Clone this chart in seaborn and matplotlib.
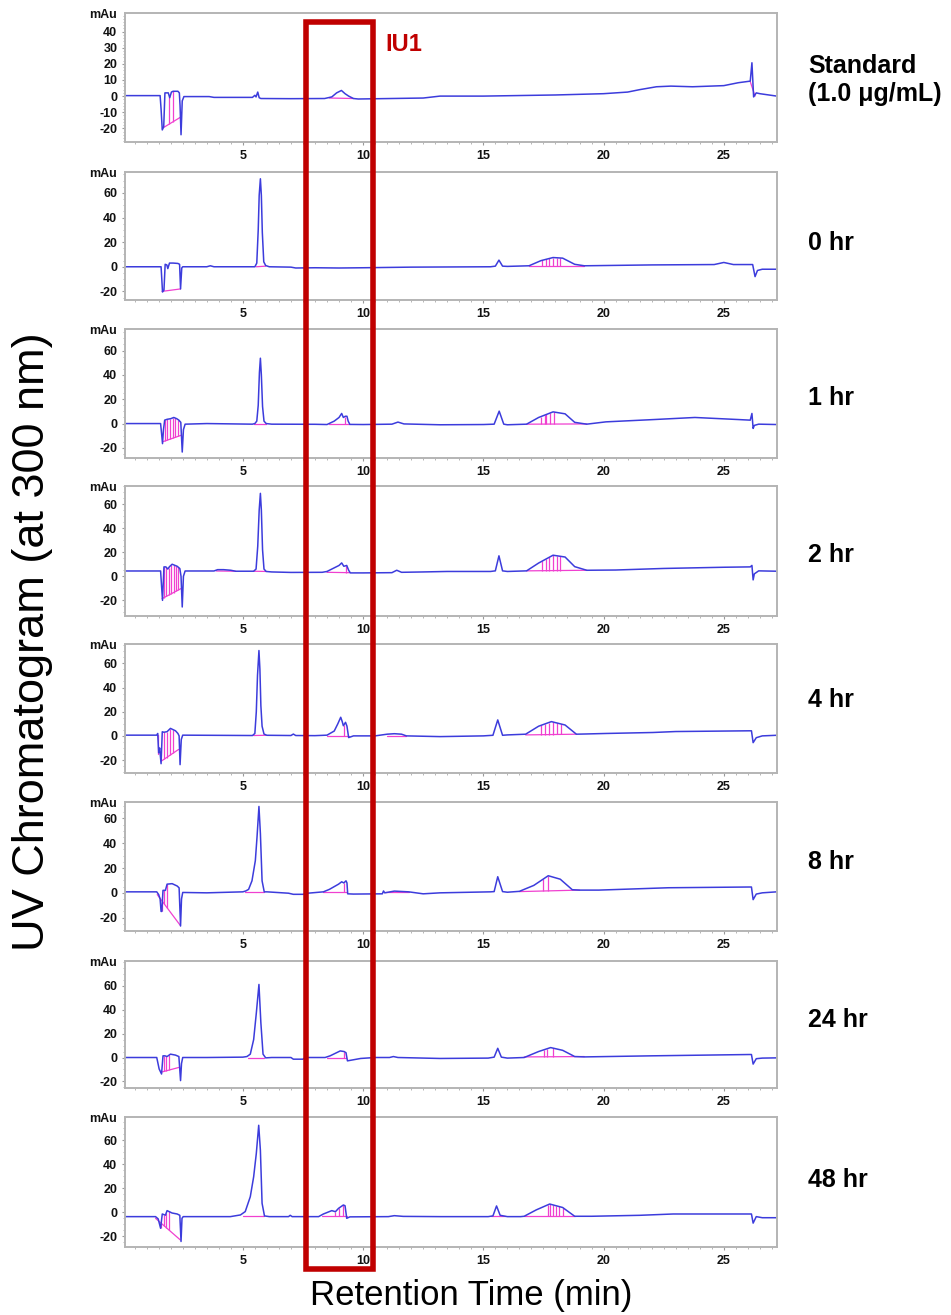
import numpy as np
import pandas as pd
import matplotlib
matplotlib.use("Agg")
import matplotlib.pyplot as plt
import seaborn as sns
from matplotlib.patches import Rectangle
from matplotlib.transforms import blended_transform_factory
from matplotlib.ticker import MultipleLocator, FixedLocator

sns.set_theme(style="white")
plt.rcParams['font.family'] = ['Liberation Sans', 'DejaVu Sans']
plt.rcParams['axes.unicode_minus'] = False

# ---------------- data (retention time [min], signal [mAu]) ----------------
sample_labels = ["Standard\n(1.0 \u03bcg/mL)", "0 hr", "1 hr", "2 hr", "4 hr", "8 hr", "24 hr", "48 hr"]

pts_std = [(0.1,0.3),(1.56,0.3),(1.60,-8),(1.65,-21),(1.71,-19),(1.76,2),(1.9,2),(1.96,-1),(2.03,2.5),(2.1,3),
           (2.3,3),(2.36,2),(2.39,-6),(2.43,-24),(2.48,-3),(2.55,-0.3),(3.6,-0.3),(3.8,-0.8),(5.4,-0.8),(5.5,0.5),
           (5.55,-0.5),(5.62,2.5),(5.68,-1),(5.75,-1.5),(7.0,-1.6),(8.4,-1.5),(8.7,-0.5),(8.9,2),(9.1,3.5),(9.25,1.5),
           (9.4,0),(9.6,-1.5),(9.8,-1.8),(12.5,-1.2),(13.2,0),(15.0,0),(18.0,0.7),(20.0,1.5),(21.0,2.5),(21.5,4),
           (22.2,5.8),(22.8,6.2),(23.7,5.8),(25.0,6.5),(25.6,8.3),(26.1,9.3),(26.17,20.7),(26.24,-0.5),(26.35,2),
           (26.5,1.5),(27.2,0)]
pts_0h = [(0.1,0),(1.6,0),(1.63,-10),(1.66,-20.5),(1.72,-19),(1.77,2),(1.84,1.5),(1.88,-1.5),(1.95,3),(2.1,3),
          (2.3,2.7),(2.37,2),(2.41,-18),(2.46,-1),(2.5,0),(3.5,0),(3.65,0.8),(3.8,0),(5.5,0),(5.58,3),(5.64,30),
          (5.68,58),(5.73,71.5),(5.77,58),(5.81,28),(5.87,4),(5.95,1),(6.1,0),(7.0,-0.3),(7.2,-1),(8.0,-0.8),
          (9.0,-1),(10.0,-0.8),(12.0,-0.3),(15.3,0),(15.5,0.5),(15.65,5.4),(15.8,0.5),(16.0,0.3),(16.9,0.8),
          (17.4,5),(17.9,7.5),(18.3,7),(18.8,2),(19.2,0.8),(20.0,1),(22.0,1.5),(24.6,1.8),(25.0,3.5),(25.4,1.8),
          (26.2,1.8),(26.3,-8),(26.4,-3),(26.6,-2),(27.2,-2)]
pts_1h = [(0.1,0),(1.58,0),(1.62,-8),(1.66,-16.5),(1.70,-5),(1.75,2.8),(1.85,3.5),(2.0,4),(2.13,5),(2.25,4),
          (2.34,2.8),(2.42,1),(2.48,-23.4),(2.53,-5),(2.6,-0.5),(3.5,0),(5.4,-0.5),(5.5,0),(5.58,2),(5.64,15),
          (5.69,42),(5.73,53.7),(5.77,40),(5.82,14),(5.88,2),(5.97,0),(6.2,-0.5),(8.0,-0.6),(8.5,-0.8),(8.8,2),
          (9.0,5),(9.11,8.3),(9.18,5),(9.26,6),(9.33,6),(9.38,2),(9.45,-0.7),(10.0,-0.8),(11.2,-0.5),(11.45,1.2),
          (11.7,-0.3),(13.2,-1),(15.0,-0.8),(15.45,-0.5),(15.66,10.2),(15.85,-0.5),(16.0,-1),(16.8,-0.5),(17.3,5),
          (17.9,9.6),(18.4,8),(18.8,1),(19.3,-0.5),(20.1,1.4),(22.1,3.3),(23.8,5),(25.6,3.3),(26.1,2.8),
          (26.17,8.3),(26.22,-4),(26.27,-1.5),(26.45,-0.5),(27.2,-0.8)]
pts_2h = [(0.1,4.4),(1.58,4.4),(1.62,-8),(1.66,-20),(1.72,7.8),(1.8,7.8),(1.88,6),(1.95,8),(2.06,10),(2.27,8.3),
          (2.38,6.4),(2.43,0),(2.48,-25.5),(2.53,0),(2.6,4.4),(3.8,4.4),(3.95,5.5),(4.2,5.5),(4.5,5),(4.7,4.2),
          (5.45,4.2),(5.55,6),(5.62,25),(5.68,55),(5.73,68.9),(5.77,55),(5.82,22),(5.88,6),(5.97,4),(6.2,3.6),
          (7.0,3.2),(8.3,3.3),(8.5,4),(8.8,7),(9.0,9),(9.11,11.1),(9.2,8.3),(9.32,9),(9.40,5),(9.47,2.8),(10.0,2.8),
          (11.2,3),(11.4,5),(11.6,3.3),(12.5,3.6),(13.5,4),(15.3,4),(15.5,4.5),(15.65,17),(15.8,4.5),(16.0,4),
          (16.8,4.5),(17.3,11),(17.9,17.5),(18.4,16),(18.8,8),(19.3,5),(20.5,5.2),(22.5,6.5),(25.0,7.5),(26.1,7.8),
          (26.17,9),(26.22,-3),(26.27,2),(26.45,4.5),(27.2,4.2)]
pts_4h = [(0.1,0.6),(1.42,0.6),(1.46,2),(1.50,-14),(1.54,-10),(1.60,-23),(1.65,3.4),(1.72,3),(1.85,3.5),(1.99,6.2),
          (2.2,4.2),(2.3,2),(2.35,0),(2.39,-23.8),(2.44,-3),(2.5,0.6),(3.5,0.5),(5.4,0.3),(5.5,2),(5.56,20),
          (5.61,50),(5.67,70.6),(5.71,55),(5.75,25),(5.80,8),(5.88,1.5),(6.0,0.5),(7.0,0.3),(7.1,1.5),(7.2,0.3),
          (8.0,0.2),(8.5,0.6),(8.8,4),(8.95,10),(9.07,15.4),(9.13,12),(9.18,8.4),(9.27,11.2),(9.33,8),(9.40,-1.4),
          (9.6,0),(10.5,0),(11.0,1.4),(11.3,1.8),(11.6,1.4),(11.8,0),(13.2,-0.6),(15.0,0),(15.4,0.5),(15.6,13.2),
          (15.8,0.5),(16.0,0.8),(16.76,1.4),(17.3,8),(17.83,11.8),(18.4,9),(18.87,1.4),(19.3,1.6),(20.1,2),
          (22.05,2.8),(23.0,3.6),(26.06,4.2),(26.15,4.2),(26.22,-5.6),(26.35,-1.5),(26.6,0),(27.2,0.5)]
pts_8h = [(0.1,0.8),(1.42,0.8),(1.5,-1.4),(1.56,-5),(1.60,-15),(1.63,-15),(1.68,2),(1.78,2),(1.85,7),(2.06,7.4),
          (2.27,5.5),(2.35,4),(2.41,-26.8),(2.45,-5),(2.5,0.3),(3.5,0),(5.0,0.8),(5.12,1.5),(5.24,2.8),(5.38,9.7),
          (5.52,26),(5.59,45),(5.67,69.7),(5.73,48),(5.80,9.7),(5.89,0.8),(6.0,0.8),(6.9,-0.3),(7.1,-1.2),(7.5,-1.2),
          (7.7,-0.3),(8.35,0.8),(8.6,2.8),(8.98,7),(9.11,8.9),(9.2,8),(9.29,9.7),(9.33,8),(9.36,-0.8),(9.6,-1),
          (10.8,-0.8),(10.85,1.5),(10.9,0),(11.3,1.4),(11.9,0.8),(12.5,-0.8),(13.2,0),(15.3,0.8),(15.45,1.0),
          (15.6,13),(15.8,1),(16.0,0.5),(16.5,1.2),(17.1,6),(17.7,13.8),(18.2,11),(18.7,2.5),(19.0,2.2),(19.8,2.2),
          (22.7,4.1),(26.06,4.7),(26.15,4.7),(26.22,-5.5),(26.35,-1),(26.6,0),(27.2,0.8)]
pts_24h = [(0.1,0),(1.42,0),(1.52,-9.6),(1.62,-13.8),(1.68,1.4),(1.76,1.4),(1.85,0.8),(1.99,2.8),(2.2,2),(2.34,0.8),
           (2.41,-19.3),(2.45,-5),(2.5,0),(3.5,0),(5.0,0.3),(5.17,0.8),(5.31,2.8),(5.45,15),(5.56,37),(5.67,61.1),
           (5.75,29),(5.84,2.8),(5.95,-0.3),(6.2,0),(7.0,0),(7.1,-1.4),(7.5,-1.4),(7.6,0),(8.42,0),(8.63,1.4),
           (9.05,5.5),(9.21,5),(9.29,4),(9.35,-2.8),(9.9,-0.8),(10.5,0),(11.1,0),(11.26,0.8),(11.45,0),(13.2,-0.8),
           (15.2,-0.5),(15.45,0.3),(15.6,7.7),(15.75,0.3),(16.0,-0.5),(16.7,0),(17.3,5),(17.8,8.3),(18.3,6),
           (18.8,0.8),(19.2,0.5),(22.0,1.4),(26.06,2.5),(26.15,2.5),(26.22,-5.5),(26.35,-1),(26.6,-0.5),(27.2,-0.3)]
pts_48h = [(0.1,-3.6),(1.37,-3.6),(1.48,-5.5),(1.58,-13.3),(1.65,-1.4),(1.78,-2.4),(1.85,1.4),(2.06,-0.6),
           (2.27,-1.4),(2.38,-2.5),(2.43,-24.3),(2.47,-5),(2.52,-3.6),(4.48,-3.6),(4.9,-2.2),(5.1,0.6),(5.31,13),
           (5.45,29.6),(5.56,49),(5.66,72.5),(5.73,51.7),(5.8,7.5),(5.9,-3),(6.1,-3.6),(6.9,-3.6),(6.97,-2.5),
           (7.05,-3.6),(8.15,-3.6),(8.35,-1.4),(8.7,1.4),(8.85,0.5),(8.98,3.3),(9.18,6.1),(9.25,5.5),(9.32,-5),
           (9.45,-3.8),(11.05,-3.6),(11.3,-2.8),(11.67,-3.4),(13.2,-3.6),(14.6,-3.6),(15.2,-3.6),(15.4,-3),
           (15.55,5.3),(15.7,-2.5),(16.0,-3.6),(16.55,-3.6),(16.7,-3.3),(17.2,2),(17.76,6.9),(18.3,4),(18.8,-3.3),
           (19.5,-3.3),(21.5,-2.5),(22.9,-1.4),(26.06,-1.4),(26.15,-1.4),(26.22,-9),(26.35,-3.6),(26.6,-4.5),
           (27.2,-4.5)]

# integration baselines (t0, y0, t1, y1) and drop-line times
base_std = [(1.65,-20,2.42,-13),(8.6,-1.2,9.6,-1.5),(26.1,9,26.3,0)]
drop_std = [1.95, 2.08]
base_0h = [(1.64,-20,2.41,-18),(5.56,0,5.95,0.5),(16.9,0.8,19.2,0.8)]
drop_0h = [17.45,17.6,17.75,17.9,18.05,18.2]
base_1h = [(1.66,-15,2.44,-9.6),(5.45,0,5.95,0),(8.6,-0.6,9.42,-0.6),(16.8,-0.5,19.3,-0.3)]
drop_1h = [1.76,1.86,1.97,2.08,2.19,2.30,9.24,17.4,17.55,17.62,17.76,17.96]
base_2h = [(1.64,-18.6,2.42,-10.3),(3.9,4.4,4.7,4.2),(5.45,4.2,5.97,4),(8.5,3.3,9.45,3.0),(16.8,4.5,19.3,5)]
drop_2h = [1.72,1.82,1.92,2.02,2.12,2.22,2.32,9.3,17.45,17.6,17.75,17.9,18.05,18.2]
base_4h = [(1.47,0.6,1.47,-15),(1.60,-21,2.33,-11.2),(5.45,0.3,5.95,0.5),(8.5,0.3,9.4,0.3),(11.0,0,11.8,0),
           (16.76,0.8,18.87,1.4)]
drop_4h = [1.72,1.83,1.97,2.11,9.2,17.4,17.55,17.72,17.88,18.05,18.22]
base_8h = [(1.44,-1.4,2.40,-26.3),(5.1,0.8,5.9,0.8),(8.35,0.8,9.33,0.8),(10.9,0.8,11.9,0.8),(16.5,1,19.0,2.2)]
drop_8h = [1.62,1.74,1.85,9.21,17.5,17.7]
base_24h = [(1.58,-12.4,2.34,-8.3),(5.2,0,5.9,0),(8.5,0,9.3,0),(16.7,0.5,19.2,0.8)]
drop_24h = [1.71,1.82,1.92,9.22,17.52,17.66,17.88]
base_48h = [(1.37,-5,2.40,-23),(5.0,-3,5.9,-3),(8.3,-3.4,9.32,-3.4),(15.3,-3.4,15.9,-3.4),(16.7,-3.3,18.8,-3.3)]
drop_48h = [1.58,1.72,1.82,1.92,8.85,8.98,9.18,17.68,17.79,17.9,18.01,18.13,18.3]

iu1_window = [7.62, 10.40]
x_ticks = [5, 10, 15, 20, 25]
y_ticks_std = [-20, -10, 0, 10, 20, 30, 40]
y_ticks_run = [-20, 0, 20, 40, 60]

traces = [pts_std, pts_0h, pts_1h, pts_2h, pts_4h, pts_8h, pts_24h, pts_48h]
bases = [base_std, base_0h, base_1h, base_2h, base_4h, base_8h, base_24h, base_48h]
drops = [drop_std, drop_0h, drop_1h, drop_2h, drop_4h, drop_8h, drop_24h, drop_48h]

# ---------------- layout ----------------
W, H = 951, 1315
panel_px = [(13,142),(172,300),(329,458),(486,616),(644,773),(802,931),(961,1088),(1117,1247)]
ylims = [(-28.5,51.6),(-27,77),(-28.3,77.7),(-33,75),(-30.7,76),(-30.8,73.3),(-25.5,80.7),(-28.9,79.4)]
label_y_px = [80, 243, 398, 555, 700, 862, 1020, 1180]
ax_left, ax_right = 125, 776.7
xlim = (0.1, 27.2)

trace_color = '#3c3cdc'
integ_color = '#f040d0'
frame_color = '#b4b4b4'

fig = plt.figure(figsize=(W/100, H/100), dpi=100)
fig.patch.set_facecolor('white')

axes = []
for i, (pts, segs, dts) in enumerate(zip(traces, bases, drops)):
    top, bot = panel_px[i]
    ax = fig.add_axes([ax_left/W, 1 - bot/H, (ax_right-ax_left)/W, (bot-top)/H])
    axes.append(ax)
    df = pd.DataFrame(pts, columns=['time', 'signal'])
    # integration marks
    for (t0, y0, t1, y1) in segs:
        ax.plot([t0, t1], [y0, y1], color=integ_color, lw=0.9, zorder=1)
    for t in dts:
        yb = None
        for (t0, y0, t1, y1) in segs:
            if t1 > t0 and t0 <= t <= t1:
                yb = y0 + (y1 - y0) * (t - t0) / (t1 - t0)
                break
        if yb is None:
            continue
        ys = np.interp(t, df['time'], df['signal'])
        ax.vlines(t, yb, ys, color=integ_color, lw=0.9, zorder=1)
    sns.lineplot(data=df, x='time', y='signal', ax=ax, color=trace_color, lw=1.1,
                 estimator=None, sort=False, zorder=2)
    ax.set_xlim(*xlim)
    ax.set_ylim(*ylims[i])
    ax.set_xlabel('')
    ax.set_ylabel('')
    ax.xaxis.set_major_locator(FixedLocator(x_ticks))
    ax.xaxis.set_minor_locator(MultipleLocator(0.5))
    if i == 0:
        ax.yaxis.set_major_locator(FixedLocator(y_ticks_std))
        ax.yaxis.set_minor_locator(MultipleLocator(2))
    else:
        ax.yaxis.set_major_locator(FixedLocator(y_ticks_run))
        ax.yaxis.set_minor_locator(MultipleLocator(5))
    ax.tick_params(axis='both', which='major', length=2.5, width=0.8, color='#999999',
                   labelsize=9, pad=3, labelcolor='#111111', direction='out')
    ax.tick_params(axis='both', which='minor', length=1.6, width=0.6, color='#aaaaaa', direction='out')
    ax.tick_params(bottom=True, left=True, which='both')
    for lab in ax.get_xticklabels() + ax.get_yticklabels():
        lab.set_fontweight('bold')
    for sp in ax.spines.values():
        sp.set_color(frame_color)
        sp.set_linewidth(1.4)
        sp.set_visible(True)
    ax.set_facecolor('white')
    ax.annotate('mAu', xy=(0, 1), xycoords='axes fraction', xytext=(-5.5, -1.5),
                textcoords='offset points', ha='right', va='center', fontsize=9,
                fontweight='bold', color='#111111')
    fig.text(808/W, 1 - label_y_px[i]/H, sample_labels[i], ha='left', va='center',
             fontsize=18, fontweight='bold', color='black', linespacing=1.25)

# IU1 window (red box spanning all panels)
trans = blended_transform_factory(axes[0].transData, fig.transFigure)
rect = Rectangle((iu1_window[0], 1 - 1269/H), iu1_window[1] - iu1_window[0], (1269 - 22)/H,
                 transform=trans, fill=False, edgecolor='#c00000', linewidth=4, zorder=10)
fig.add_artist(rect)
fig.text(385/W, 1 - 44.7/H, 'IU1', ha='left', va='center', fontsize=17, fontweight='bold', color='#c00000')

fig.text(471/W, 1 - 1305/H, 'Retention Time (min)', ha='center', va='baseline', fontsize=25, color='black')
fig.text(33/W, 1 - 642/H, 'UV Chromatogram (at 300 nm)', ha='center', va='center', rotation=90,
         fontsize=32.5, color='black')

fig.savefig('out.png', dpi=100, facecolor='white')
